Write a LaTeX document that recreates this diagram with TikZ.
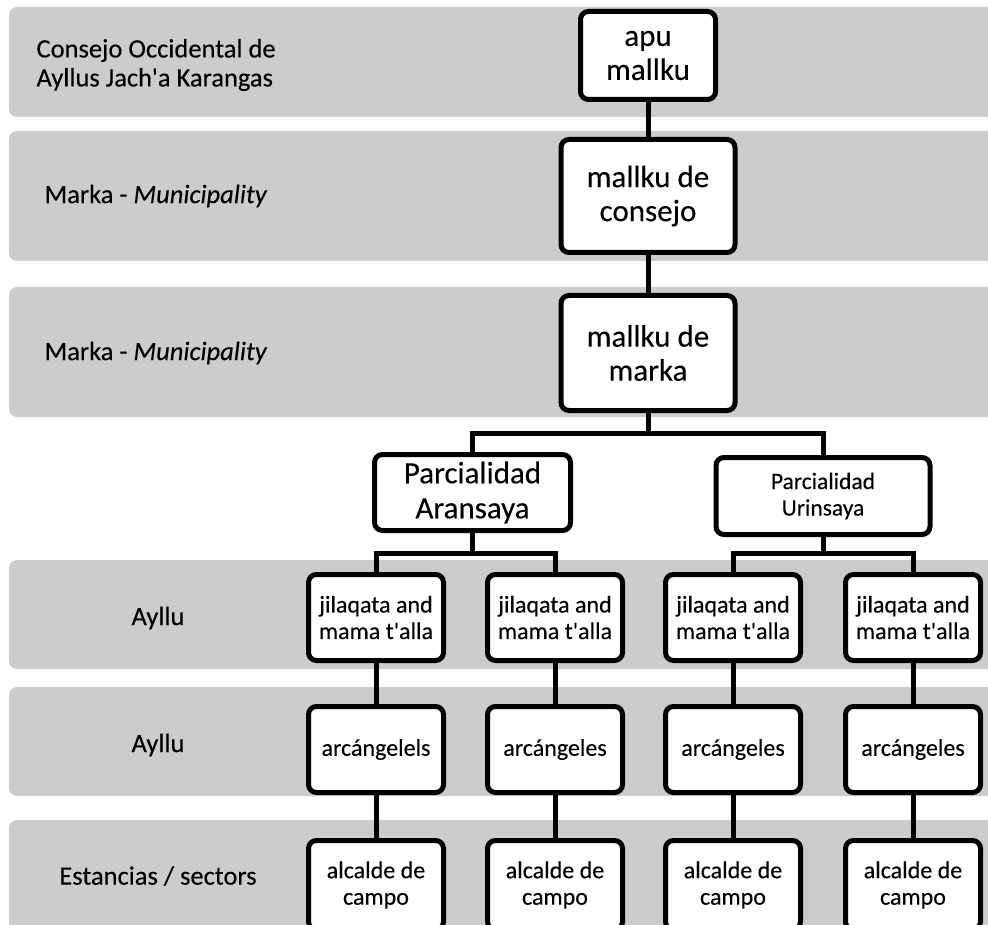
\documentclass[tikz,border=0pt]{standalone}
\usepackage{fontspec}
\setmainfont{Carlito}[Ligatures=TeXOff, FakeBold=0.2]
\usetikzlibrary{positioning}

\begin{document}
\begin{tikzpicture}[
    x=1pt, y=-1pt,
    box/.style={rectangle, draw, line width=5pt, fill=white, rounded corners=8pt, align=center, inner sep=0pt},
    bigbox/.style={box, font=\fontsize{31}{34}\selectfont},
    smallbox/.style={box, minimum width=135pt, minimum height=86pt, font=\fontsize{24}{26.5}\selectfont},
    band/.style={fill=black!20, rounded corners=8pt},
    lab/.style={font=\fontsize{26.5}{29}\selectfont},
    link/.style={line width=5pt}
]
\clip (0,0) rectangle (988,925);

% Level bands
\fill[band] (9,7) rectangle (1010,117);
\fill[band] (9,131) rectangle (1010,261);
\fill[band] (9,287) rectangle (1010,417);
\fill[band] (9,560) rectangle (1010,669);
\fill[band] (9,687) rectangle (1010,796);
\fill[band] (9,820) rectangle (1010,960);

% Level labels
\node[lab, anchor=west, align=left] (lconsejo) at (33,65) {Consejo Occidental de\\Ayllus Jach'a Karangas};
\node[lab, anchor=west] (lmarka1) at (41,196) {Marka - \textit{Municipality}};
\node[lab, anchor=west] (lmarka2) at (41,353) {Marka - \textit{Municipality}};
\node[lab] (layllu1) at (158,618) {Ayllu};
\node[lab] (layllu2) at (158,745) {Ayllu};
\node[lab] (lestancia) at (158,876) {Estancias / sectors};

% Main blocks
\node[bigbox, minimum width=135pt, minimum height=88pt] (apu) at (648,55.5) {apu\\mallku};
\node[bigbox, minimum width=174pt, minimum height=113pt] (consejo) at (648,196) {mallku de\\consejo};
\node[bigbox, minimum width=174pt, minimum height=115pt] (marka) at (648,353) {mallku de\\marka};
\node[bigbox, minimum width=196pt, minimum height=76pt, font=\fontsize{31}{35}\selectfont] (aransaya) at (472.5,492.5) {Parcialidad\\Aransaya};
\node[box, minimum width=214pt, minimum height=77pt, font=\fontsize{23.5}{26.5}\selectfont] (urinsaya) at (823,496) {Parcialidad\\Urinsaya};

% Ayllu authorities
\node[smallbox] (jil1) at (376,617.5) {jilaqata and\\mama t'alla};
\node[smallbox] (jil2) at (555,617.5) {jilaqata and\\mama t'alla};
\node[smallbox] (jil3) at (733,617.5) {jilaqata and\\mama t'alla};
\node[smallbox] (jil4) at (913,617.5) {jilaqata and\\mama t'alla};

\node[smallbox, below=41pt of jil1] (arc1) {arcángelels};
\node[smallbox, below=41pt of jil2] (arc2) {arcángeles};
\node[smallbox, below=41pt of jil3] (arc3) {arcángeles};
\node[smallbox, below=41pt of jil4] (arc4) {arcángeles};

\node[smallbox, minimum height=89pt, below=43pt of arc1] (alc1) {alcalde de\\campo};
\node[smallbox, minimum height=89pt, below=43pt of arc2] (alc2) {alcalde de\\campo};
\node[smallbox, minimum height=89pt, below=43pt of arc3] (alc3) {alcalde de\\campo};
\node[smallbox, minimum height=89pt, below=43pt of arc4] (alc4) {alcalde de\\campo};

% Branch points
\coordinate (split) at (648,433);
\coordinate (splitA) at (472.5,553);
\coordinate (splitU) at (823,553);

% Links
\draw[link] (apu) -- (consejo);
\draw[link] (consejo) -- (marka);
\draw[link] (marka) -- (split);
\draw[link] (aransaya.north) |- (split) -| (urinsaya.north);
\draw[link] (aransaya) -- (splitA);
\draw[link] (jil1.north) |- (splitA) -| (jil2.north);
\draw[link] (urinsaya) -- (splitU);
\draw[link] (jil3.north) |- (splitU) -| (jil4.north);

\draw[link] (jil1) -- (arc1);
\draw[link] (jil2) -- (arc2);
\draw[link] (jil3) -- (arc3);
\draw[link] (jil4) -- (arc4);
\draw[link] (arc1) -- (alc1);
\draw[link] (arc2) -- (alc2);
\draw[link] (arc3) -- (alc3);
\draw[link] (arc4) -- (alc4);

\end{tikzpicture}
\end{document}
